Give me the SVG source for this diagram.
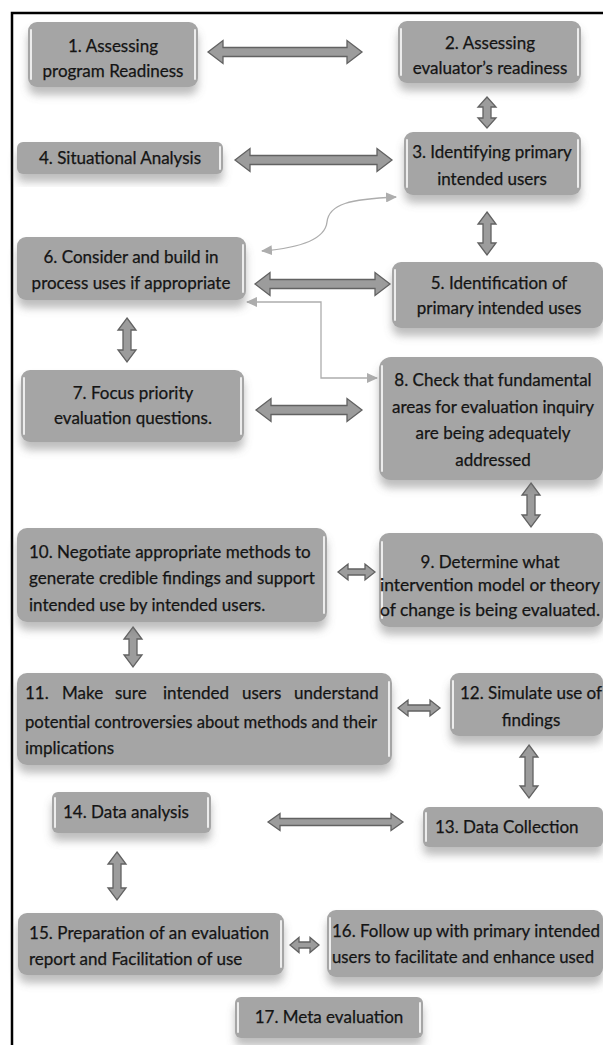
<svg xmlns="http://www.w3.org/2000/svg" width="603" height="1045" viewBox="0 0 603 1045">
<style>
.box{fill:#a5a5a5;filter:url(#sh)}
.hl{stroke:#f4f4f4;stroke-width:2;stroke-linecap:round;opacity:.9}
.t{font-family:Lato,"Open Sans",sans-serif;font-size:17px;fill:#141414;stroke:#141414;stroke-width:0.25}
.c{text-anchor:middle}
.blk{fill:#9c9c9c;stroke:#626262;stroke-width:1.3;stroke-linejoin:miter}
.thin{fill:none;stroke:#adadad;stroke-width:1.3}
</style>
<defs>
<filter id="sh" x="-10%" y="-20%" width="120%" height="160%">
<feDropShadow dx="0" dy="8" stdDeviation="4" flood-color="#6e6e6e" flood-opacity="0.45"/>
</filter>
<marker id="ah" markerWidth="12" markerHeight="10" refX="10" refY="5" orient="auto-start-reverse" markerUnits="userSpaceOnUse">
<path d="M0 0 L11 5 L0 10 Z" fill="#adadad"/>
</marker>
</defs>
<rect width="603" height="1045" fill="#ffffff"/>
<path d="M12 1045 V13 H603" fill="none" stroke="#000" stroke-width="2.5"/>

<g id="connectors">
<path class="blk" d="M208 52 L223 40.5 L223 47.5 L347 47.5 L347 40.5 L362 52 L347 63.5 L347 56.5 L223 56.5 L223 63.5 Z"/>
<path class="blk" d="M235 160 L250 148.5 L250 155.5 L377 155.5 L377 148.5 L392 160 L377 171.5 L377 164.5 L250 164.5 L250 171.5 Z"/>
<path class="blk" d="M255 284 L270 272.5 L270 279.5 L375 279.5 L375 272.5 L390 284 L375 295.5 L375 288.5 L270 288.5 L270 295.5 Z"/>
<path class="blk" d="M256 410 L271 398.5 L271 405.5 L347 405.5 L347 398.5 L362 410 L347 421.5 L347 414.5 L271 414.5 L271 421.5 Z"/>
<path class="blk" d="M338 572 L348 564 L348 569 L365 569 L365 564 L375 572 L365 580 L365 575 L348 575 L348 580 Z"/>
<path class="blk" d="M398 708 L408 700 L408 705 L430 705 L430 700 L440 708 L430 716 L430 711 L408 711 L408 716 Z"/>
<path class="blk" d="M268 822 L280 813.5 L280 818.5 L391 818.5 L391 813.5 L403 822 L391 830.5 L391 825.5 L280 825.5 L280 830.5 Z"/>
<path class="blk" d="M290 945 L299 937.5 L299 942 L310 942 L310 937.5 L319 945 L310 952.5 L310 948 L299 948 L299 952.5 Z"/>
<path class="blk" d="M487 97 L496 107 L491 107 L491 118 L496 118 L487 128 L478 118 L483 118 L483 107 L478 107 Z"/>
<path class="blk" d="M487 212 L496 224 L491 224 L491 243 L496 243 L487 255 L478 243 L483 243 L483 224 L478 224 Z"/>
<path class="blk" d="M127 318 L136 330 L131 330 L131 350 L136 350 L127 362 L118 350 L123 350 L123 330 L118 330 Z"/>
<path class="blk" d="M531 483 L540 495 L535 495 L535 515 L540 515 L531 527 L522 515 L527 515 L527 495 L522 495 Z"/>
<path class="blk" d="M133 627 L142 639 L137 639 L137 655 L142 655 L133 667 L124 655 L129 655 L129 639 L124 639 Z"/>
<path class="blk" d="M529 745 L538 757 L533 757 L533 786 L538 786 L529 798 L520 786 L525 786 L525 757 L520 757 Z"/>
<path class="blk" d="M117 852 L126 864 L121 864 L121 888 L126 888 L117 900 L108 888 L113 888 L113 864 L108 864 Z"/>
<path class="thin" d="M262 251 C300 248 325 240 327 222 C329 204 350 199 396 197" marker-start="url(#ah)" marker-end="url(#ah)"/>
<path class="thin" d="M247 302 L321 302 L321 378 L377 378" marker-start="url(#ah)" marker-end="url(#ah)"/>
</g>

<g id="n1"><rect class="box" x="28" y="22" width="170" height="65" rx="9"/><line class="hl" x1="31" y1="30" x2="31" y2="79"/><line class="hl" x1="195" y1="30" x2="195" y2="79"/>
<text class="t c" x="113" y="52">1. Assessing</text><text class="t c" x="113" y="77">program Readiness</text></g>
<g id="n2"><rect class="box" x="398" y="21" width="183" height="62" rx="9"/><line class="hl" x1="401" y1="29" x2="401" y2="75"/><line class="hl" x1="578" y1="29" x2="578" y2="75"/>
<text class="t c" x="490" y="49">2. Assessing</text><text class="t c" x="490" y="74">evaluator’s readiness</text></g>
<g id="n3"><rect class="box" x="404" y="132" width="177" height="63" rx="9"/><line class="hl" x1="407" y1="140" x2="407" y2="187"/><line class="hl" x1="578" y1="140" x2="578" y2="187"/>
<text class="t c" x="492" y="158">3. Identifying primary</text><text class="t c" x="492" y="185">intended users</text></g>
<g id="n4"><rect class="box" x="17" y="142" width="206" height="32" rx="6"/><line class="hl" x1="220" y1="147" x2="220" y2="169"/>
<text class="t c" x="120" y="164">4. Situational Analysis</text></g>
<g id="n5"><rect class="box" x="392" y="262" width="211" height="66" rx="9"/><line class="hl" x1="395" y1="270" x2="395" y2="320"/>
<text class="t c" x="499" y="289">5. Identification of</text><text class="t c" x="499" y="314">primary intended uses</text></g>
<g id="n6"><rect class="box" x="17" y="237" width="229" height="63" rx="9"/><line class="hl" x1="243" y1="245" x2="243" y2="292"/>
<text class="t c" x="131" y="263">6. Consider and build in</text><text class="t c" x="131" y="289">process uses if appropriate</text></g>
<g id="n7"><rect class="box" x="21" y="370" width="223" height="72" rx="9"/><line class="hl" x1="24" y1="378" x2="24" y2="434"/><line class="hl" x1="241" y1="378" x2="241" y2="434"/>
<text class="t c" x="133" y="399">7. Focus priority</text><text class="t c" x="133" y="424">evaluation questions.</text></g>
<g id="n8"><rect class="box" x="379" y="357" width="224" height="123" rx="12"/><line class="hl" x1="382" y1="366" x2="382" y2="471"/>
<text class="t c" x="493" y="386">8. Check that fundamental</text><text class="t c" x="493" y="413">areas for evaluation inquiry</text><text class="t c" x="493" y="439">are being adequately</text><text class="t c" x="493" y="466">addressed</text></g>
<g id="n9"><rect class="box" x="379" y="533" width="224" height="94" rx="10"/><line class="hl" x1="382" y1="542" x2="382" y2="618"/>
<text class="t c" x="490" y="568">9. Determine what</text><text class="t c" x="490" y="591" textLength="220" lengthAdjust="spacingAndGlyphs">intervention model or theory</text><text class="t c" x="490" y="616" textLength="220" lengthAdjust="spacingAndGlyphs">of change is being evaluated.</text></g>
<g id="n10"><rect class="box" x="17" y="528" width="310" height="94" rx="10"/><line class="hl" x1="324" y1="537" x2="324" y2="613"/>
<text class="t" x="29" y="558">10. Negotiate appropriate methods to</text><text class="t" x="29" y="584">generate credible findings and support</text><text class="t" x="29" y="611">intended use by intended users.</text></g>
<g id="n11"><rect class="box" x="17" y="673" width="375" height="92" rx="10"/><line class="hl" x1="389" y1="682" x2="389" y2="756"/>
<text class="t"><tspan x="25" y="699">11.</tspan><tspan x="62" y="699">Make</tspan><tspan x="115" y="699">sure</tspan><tspan x="163" y="699">intended</tspan><tspan x="242" y="699">users</tspan><tspan x="294" y="699">understand</tspan></text>
<text class="t" x="25" y="728" textLength="352" lengthAdjust="spacingAndGlyphs">potential controversies about methods and their</text><text class="t" x="25" y="754">implications</text></g>
<g id="n12"><rect class="box" x="450" y="673" width="153" height="63" rx="9"/><line class="hl" x1="453" y1="681" x2="453" y2="728"/>
<text class="t c" x="531" y="699">12. Simulate use of</text><text class="t c" x="531" y="726">findings</text></g>
<g id="n13"><rect class="box" x="423" y="807" width="180" height="40" rx="6"/><line class="hl" x1="426" y1="813" x2="426" y2="841"/>
<text class="t" x="435" y="833">13. Data Collection</text></g>
<g id="n14"><rect class="box" x="52" y="792" width="159" height="41" rx="6"/><line class="hl" x1="55" y1="798" x2="55" y2="827"/><line class="hl" x1="208" y1="798" x2="208" y2="827"/>
<text class="t" x="63" y="818">14. Data analysis</text></g>
<g id="n15"><rect class="box" x="18" y="913" width="266" height="62" rx="9"/><line class="hl" x1="281" y1="921" x2="281" y2="967"/>
<text class="t" x="29" y="939" textLength="240" lengthAdjust="spacing">15. Preparation of an evaluation</text>
<text class="t" x="29" y="965">report and Facilitation of use</text></g>
<g id="n16"><rect class="box" x="327" y="910" width="276" height="67" rx="9"/><line class="hl" x1="330" y1="918" x2="330" y2="969"/>
<text class="t" x="332" y="937" textLength="268" lengthAdjust="spacingAndGlyphs">16. Follow up with primary intended</text><text class="t" x="332" y="963" textLength="262" lengthAdjust="spacingAndGlyphs">users to facilitate and enhance used</text></g>
<g id="n17"><rect class="box" x="235" y="997" width="188" height="41" rx="6"/><line class="hl" x1="238" y1="1003" x2="238" y2="1032"/><line class="hl" x1="420" y1="1003" x2="420" y2="1032"/>
<text class="t c" x="329" y="1023">17. Meta evaluation</text></g>
</svg>
